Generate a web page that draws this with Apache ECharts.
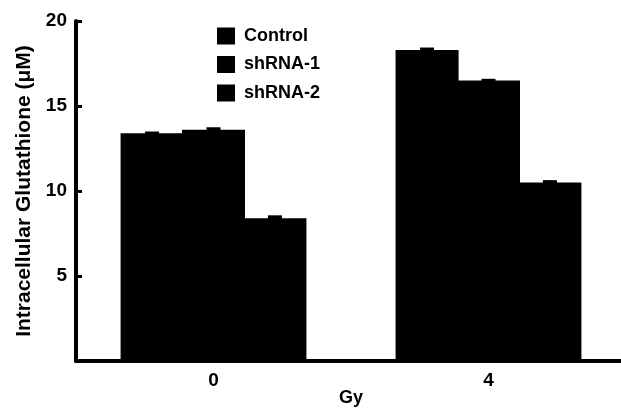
<!DOCTYPE html>
<html>
<head>
<meta charset="utf-8">
<script src="https://cdn.jsdelivr.net/npm/echarts@6/dist/echarts.min.js"></script>
<style>
html,body{margin:0;padding:0;background:#fff;overflow:hidden;}
#chart{width:632px;height:416px;}
</style>
</head>
<body>
<div id="chart"></div>
<script>
const categories = ['0', '4'];
const seriesNames = ['Control', 'shRNA-1', 'shRNA-2'];
const controlValues = [13.4, 18.3];
const shRNA1Values = [13.6, 16.5];
const shRNA2Values = [8.4, 10.5];
const controlErr = [0.1, 0.14];
const shRNA1Err = [0.15, 0.1];
const shRNA2Err = [0.17, 0.14];
const yTickLabels = ['', '5', '10', '15', '20'];

const BAR_W = 63;
const BAR_GAP_PCT = -2.5;
const BAR_STEP = BAR_W * (1 + BAR_GAP_PCT / 100);
const FONT = '"Liberation Sans", Arial, Helvetica, sans-serif';
const allValues = [controlValues, shRNA1Values, shRNA2Values];
const allErr = [controlErr, shRNA1Err, shRNA2Err];

const errData = [];
allValues.forEach((vals, s) => {
  vals.forEach((v, i) => errData.push([i, v, allErr[s][i], s]));
});

const barStyle = {color: '#000'};

const chart = echarts.init(document.getElementById('chart'), null, {renderer: 'canvas'});
chart.setOption({
  animation: false,
  backgroundColor: '#fff',
  textStyle: {fontFamily: FONT},
  grid: {left: 76, top: 21, width: 550, height: 340, containLabel: false},
  legend: {
    data: seriesNames,
    orient: 'vertical',
    left: 217,
    top: 27,
    padding: 0,
    icon: 'rect',
    itemWidth: 18,
    itemHeight: 17,
    itemGap: 10.5,
    textStyle: {fontFamily: FONT, fontWeight: 'bold', fontSize: 18, color: '#000', lineHeight: 18, padding: [0, 0, 0, 4]},
    selectedMode: false
  },
  xAxis: {
    type: 'category',
    data: categories,
    name: 'Gy',
    nameLocation: 'middle',
    nameGap: 28,
    nameMoveOverlap: false,
    nameTextStyle: {fontFamily: FONT, fontWeight: 'bold', fontSize: 18, color: '#000'},
    axisLine: {show: true, lineStyle: {color: '#000', width: 4}},
    axisTick: {show: false},
    axisLabel: {fontFamily: FONT, fontWeight: 'bold', fontSize: 19, color: '#000', margin: 10},
    splitLine: {show: false},
    z: 5
  },
  yAxis: {
    type: 'value',
    min: 0,
    max: 20,
    interval: 5,
    name: 'Intracellular Glutathione (\u03bcM)',
    nameLocation: 'middle',
    nameRotate: 90,
    nameGap: 41,
    nameMoveOverlap: false,
    nameTextStyle: {fontFamily: FONT, fontWeight: 'bold', fontSize: 21, color: '#000'},
    axisLine: {show: true, lineStyle: {color: '#000', width: 4}},
    axisTick: {show: true, inside: true, length: 6, lineStyle: {color: '#000', width: 3}},
    axisLabel: {
      fontFamily: FONT, fontWeight: 'bold', fontSize: 19, color: '#000', margin: 9,
      formatter: function (v) { return yTickLabels[Math.round(v / 5)]; }
    },
    splitLine: {show: false},
    z: 5
  },
  series: [
    {name: seriesNames[0], type: 'bar', data: controlValues, barWidth: BAR_W, barGap: BAR_GAP_PCT + '%', itemStyle: barStyle},
    {name: seriesNames[1], type: 'bar', data: shRNA1Values, barWidth: BAR_W, barGap: BAR_GAP_PCT + '%', itemStyle: barStyle},
    {name: seriesNames[2], type: 'bar', data: shRNA2Values, barWidth: BAR_W, barGap: BAR_GAP_PCT + '%', itemStyle: barStyle},
    {
      name: 'err',
      type: 'custom',
      data: errData,
      z: 10,
      renderItem: function (params, api) {
        const cat = api.value(0), v = api.value(1), e = api.value(2), s = api.value(3);
        const top = api.coord([cat, v + e]);
        const base = api.coord([cat, v]);
        const x = base[0] + (s - 1) * BAR_STEP;
        return {
          type: 'rect',
          shape: {x: x - 7, y: top[1], width: 14, height: Math.max(2, base[1] - top[1] + 1)},
          style: {fill: '#000'}
        };
      }
    }
  ]
});
</script>
</body>
</html>
